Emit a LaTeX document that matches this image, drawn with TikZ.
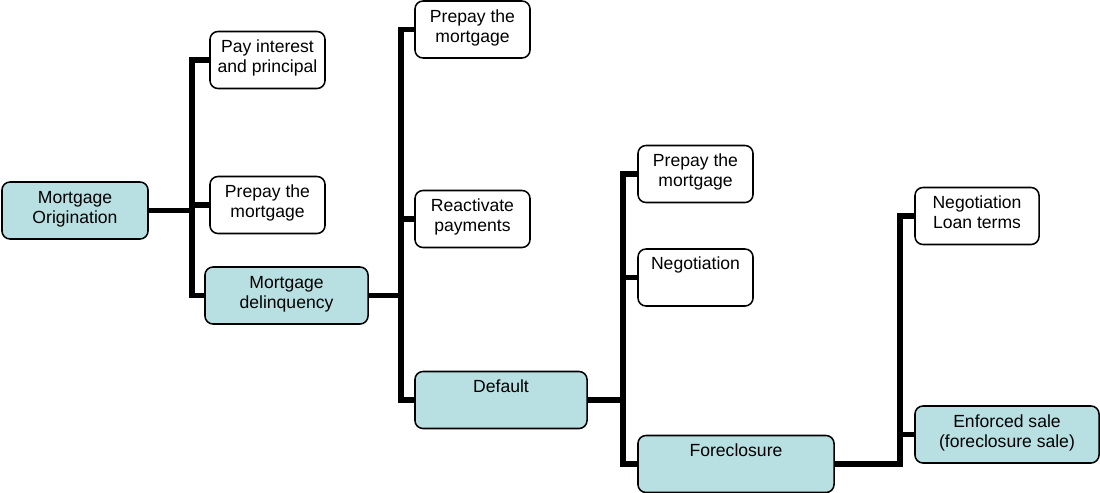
\documentclass[tikz,border=0pt]{standalone}
\usepackage{fontspec}
\setmainfont{Liberation Sans}
\definecolor{mortBlue}{RGB}{184, 223, 225}

\begin{document}
\begin{tikzpicture}[
  x=0.025cm,y=-0.025cm,
  stage/.style={
    draw,
    line width=1.1pt,
    rounded corners=0.2cm,
    align=center,
    inner xsep=2pt,
    inner ysep=0pt,
    text height=1.025cm,
    text depth=0.4cm,
    minimum height=1.425cm,
    font=\fontsize{12.5}{14.2}\selectfont
  },
  oneline/.style={text height=0.525cm,text depth=0.9cm},
  event/.style={stage,fill=mortBlue},
  option/.style={stage,fill=white},
  link/.style={line width=4.2pt}
]
  \useasboundingbox (0,0) rectangle (1100,493);

  \node[event,minimum width=3.65cm] (origin) at (75,210.5)
    {Mortgage\\Origination};
  \node[option,minimum width=2.875cm] (pay) at (267.5,60)
    {Pay interest\\and principal};
  \node[option,minimum width=2.875cm] (prepayA) at (267.5,205)
    {Prepay the\\mortgage};
  \node[event,minimum width=4.075cm] (delinq) at (286.5,295.5)
    {Mortgage\\delinquency};

  \node[option,minimum width=2.875cm] (prepayB) at (472.5,29.5)
    {Prepay the\\mortgage};
  \node[option,minimum width=2.875cm] (react) at (472.5,219)
    {Reactivate\\payments};
  \node[event,oneline,minimum width=4.3cm] (default) at (501,400)
    {Default};

  \node[option,minimum width=2.875cm] (prepayC) at (695.5,174)
    {Prepay the\\mortgage};
  \node[option,oneline,minimum width=2.875cm] (negot) at (695.5,277.5)
    {Negotiation};
  \node[event,oneline,minimum width=4.9cm] (foreclose) at (736,464)
    {Foreclosure};

  \node[option,minimum width=3.1cm] (loan) at (977,216)
    {Negotiation\\Loan terms};
  \node[event,minimum width=4.6cm] (enforced) at (1007,434.5)
    {Enforced sale\\(foreclosure sale)};

  \coordinate (busA) at (192,0);
  \coordinate (busB) at (401,0);
  \coordinate (busC) at (623,0);
  \coordinate (busD) at (900,0);

  \draw[link] (origin.east) -- (origin.east -| busA) |- (pay.west);
  \draw[link] (origin.east) -- (origin.east -| busA) |- (prepayA.west);
  \draw[link] (origin.east) -- (origin.east -| busA) |- (delinq.west);

  \draw[link] (delinq.east) -- (delinq.east -| busB) |- (prepayB.west);
  \draw[link] (delinq.east) -- (delinq.east -| busB) |- (react.west);
  \draw[link] (delinq.east) -- (delinq.east -| busB) |- (default.west);

  \draw[link] (default.east) -- (default.east -| busC) |- (prepayC.west);
  \draw[link] (default.east) -- (default.east -| busC) |- (negot.west);
  \draw[link] (default.east) -- (default.east -| busC) |- (foreclose.west);

  \draw[link] (foreclose.east) -- (foreclose.east -| busD) |- (loan.west);
  \draw[link] (foreclose.east) -- (foreclose.east -| busD) |- (enforced.west);
\end{tikzpicture}
\end{document}
